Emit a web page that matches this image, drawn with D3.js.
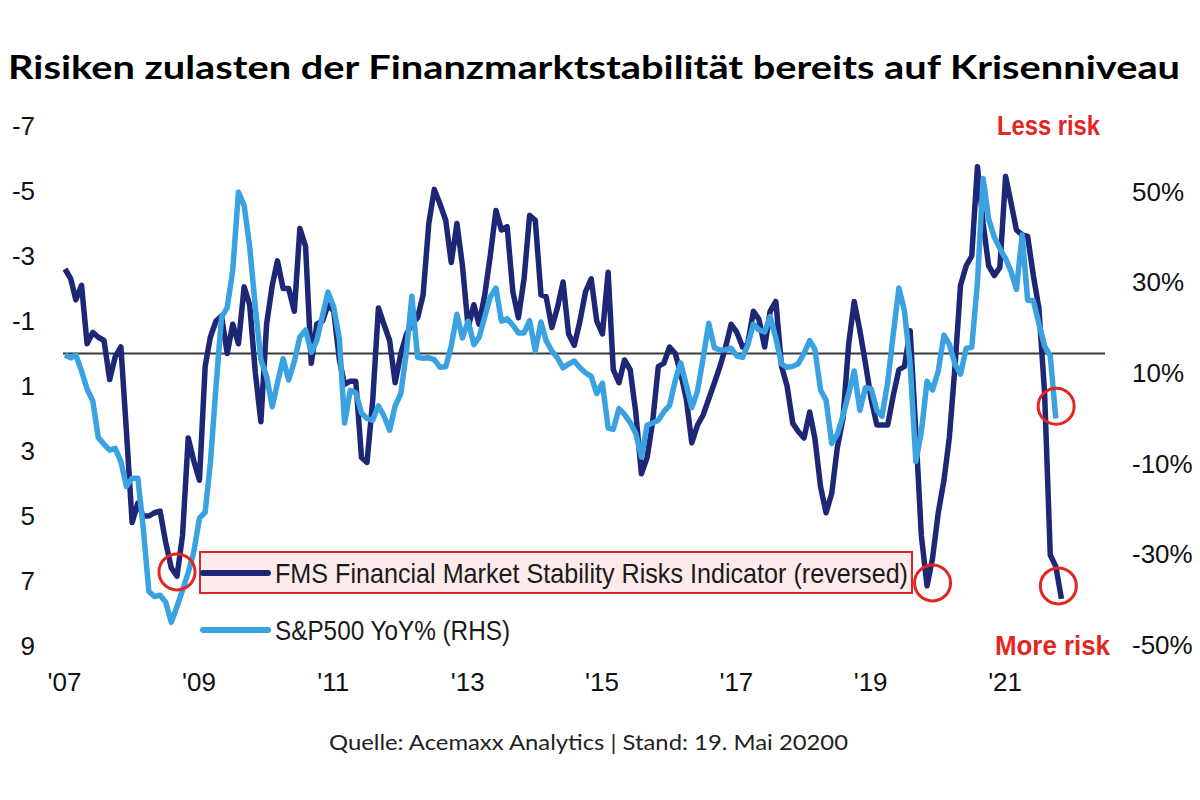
<!DOCTYPE html>
<html>
<head>
<meta charset="utf-8">
<script src="https://cdn.jsdelivr.net/npm/d3@7"></script>
<style>
  body { margin: 0; background: #fff; }
  .tick text { font-family: "Liberation Sans", Arial, sans-serif; font-size: 26px; fill: #111; }
</style>
</head>
<body>
<div id="chart"></div>
<script>
// FMS Financial Market Stability Risks Indicator (reversed), monthly from Jan 2007
let fmsReversed = [
  -2.6, -2.3, -1.65, -2.1, -0.3, -0.65, -0.5, -0.4, 0.8, 0.1,
  -0.2, 2.4, 5.2, 4.6, 5.0, 5.0, 4.9, 4.85, 5.8, 6.6,
  6.85, 5.6, 2.6, 3.3, 3.9, 0.4, -0.5, -1.0, -1.15, 0,
  -0.9, -0.3, -2.05, -1.5, 0.6, 2.1, -0.9, -2.1, -2.85, -2.0,
  -2.0, -1.3, -3.85, -3.3, 0.3, -0.9, -1.0, -1.5, -1.3, 0.2,
  0.95, 0.85, 0.85, 3.2, 3.35, 1.45, -1.4, -0.9, -0.4, 0.9,
  0, -0.6, -0.9, -1.1, -1.8, -4.0, -5.05, -4.6, -4.1, -2.8,
  -4.0, -2.7, -0.8, -1.5, -0.9, -1.8, -3.0, -4.4, -3.8, -3.9,
  -1.9, -1.1, -2.3, -4.25, -4.1, -1.8, -1.75, -0.8, -1.4, -2.2,
  -0.6, -0.25, -1.0, -1.9, -2.3, -1.0, -0.6, -2.5, 0.5, 0.9,
  0.2, 0.5, 1.8, 3.7, 3.2, 2.1, 0.4, 0.3, -0.2, 0,
  0.6, 1.4, 2.75, 2.2, 1.9, 1.4, 0.9, 0.4, -0.2, -0.9,
  -0.65, -0.2, -0.3, -1.3, -1.05, -0.2, -1.3, -1.6, 0.4, 1.0,
  2.15, 2.4, 2.6, 1.8, 2.6, 4.1, 4.9, 4.3, 2.9, 2.0,
  -0.3, -1.6, -0.7, 0.3, 1.4, 2.2, 2.2, 2.2, 1.3, 0.5,
  0.4, -0.7, 2.4, 5.6, 7.15, 6.3, 4.9, 3.9, 2.6, 0.4,
  -2.1, -2.7, -3.0, -5.75, -4.0, -2.7, -2.4, -2.65, -5.45, -4.6,
  -3.8, -3.65, -3.6, -2.4, -1.4, 1.2, 6.2, 6.55, 7.55
]

// S&P500 YoY in %, monthly from Jan 2007 (right axis)
let spxYoY = [
  14.0, 13.4, 14.0, 10.5, 6.5, 3.9, -4.2, -5.7, -7.0, -6.6,
  -9.5, -15.0, -13.2, -13.2, -24, -38.2, -39.3, -39, -40.5, -45,
  -41.5, -37.9, -34, -29.5, -22, -20.7, -10, 7, 22.3, 24.5,
  32.7, 50, 47, 38, 24.5, 13, 9.3, 2.6, 7.8, 13.2,
  8.5, 12.6, 18, 19.5, 14.6, 17.2, 22.7, 27.9, 24.6, 17.5,
  -1.0, 6.2, 5.7, 1.2, 0, -0.4, 2.8, 0.6, -2.6, 2.8,
  5.5, 15, 27, 13.5, 13.3, 13.4, 13, 11.3, 11.4, 16,
  23, 17.8, 21.5, 16.3, 17.9, 22.4, 26.8, 28.8, 21.5, 22,
  20.6, 18.9, 18.9, 21.6, 14.9, 21.3, 17.2, 14.9, 13.4, 11.2,
  12.0, 12.7, 11.2, 10.1, 9.3, 5.5, 7.8, -2.1, -2.4, 2.2,
  0.9, -0.9, -3.3, -8.5, -1.5, -1.0, -0.4, 1.5, 2.9, 8.4,
  12.3, 7.4, 2.4, 6.1, 13.2, 21, 15.6, 15.1, 15.2, 15.5,
  13.8, 13.5, 16.2, 20.8, 19.6, 19.1, 22.5, 17.7, 12, 11.3,
  11.5, 12.1, 14.4, 17.2, 15.3, 6.3, 4.0, -5.5, -3.5, 0.6,
  5.5, 10.5, 1.8, 6.8, 6.6, 1.8, 0.5, 8, 18.5, 28.8,
  23.8, 12, -9.5, -3, 8.2, 6.3, 10.5, 18.4, 16.4, 12,
  9.8, 15.5, 15.7, 30, 53, 44, 40, 37.5, 35.3, 32.3,
  28.5, 40.5, 26.1, 26, 21, 16, 13.8, 0
]

let months = d3.timeMonth.range(new Date(2007, 0, 1), new Date(2021, 11, 1))

let leftTicks = [-7, -5, -3, -1, 1, 3, 5, 7, 9]
let rightTicks = [-50, -30, -10, 10, 30, 50]
let yearTicks = [2007, 2009, 2011, 2013, 2015, 2017, 2019, 2021]

// red circles marking the risk lows (date, axis, value)
let riskCircles = [
  { date: new Date(2008, 8, 1), axis: "left", value: 6.72 },
  { date: new Date(2019, 11, 1), axis: "left", value: 7.06 },
  { date: new Date(2021, 9, 3), axis: "right", value: 2.7 },
  { date: new Date(2021, 9, 15), axis: "left", value: 7.15 }
]

let legendItems = [
  { label: "FMS Financial Market Stability Risks Indicator (reversed)", color: "#1d2775", width: 633 },
  { label: "S&P500 YoY% (RHS)", color: "#3aa2e0", width: 235 }
]

let width = 1200
let height = 800
let darkBlue = "#1d2775"
let lightBlue = "#3aa2e0"
let red = "#e3261f"

let svg = d3
  .select("#chart")
  .append("svg")
  .attr("width", width)
  .attr("height", height)

let xScale = d3.scaleTime()
  .domain([new Date(2007, 0, 1), new Date(2022, 6, 1)])
  .range([65, 1106])

let yLeft = d3.scaleLinear()
  .domain([-7, 9])
  .range([126, 646])

let yRight = d3.scaleLinear()
  .domain([-50, 50])
  .range([645, 192])

// title
svg.append("text")
  .attr("x", 8)
  .attr("y", 79)
  .attr("textLength", 1172)
  .attr("lengthAdjust", "spacingAndGlyphs")
  .style("font-family", "Lato, 'Open Sans', sans-serif")
  .style("font-weight", "bold")
  .style("font-size", "33px")
  .style("fill", "#000")
  .text("Risiken zulasten der Finanzmarktstabilität bereits auf Krisenniveau")

// axes (plain hyphen for negatives, like the original)
let leftAxis = d3.axisLeft(yLeft).tickValues(leftTicks).tickSize(0).tickPadding(0)
  .tickFormat(d => String(d))
let rightAxis = d3.axisRight(yRight).tickValues(rightTicks).tickSize(0).tickPadding(0)
  .tickFormat(d => d + "%")
let bottomAxis = d3.axisBottom(xScale)
  .tickValues(yearTicks.map(y => new Date(y, 0, 1)))
  .tickFormat(d => "'" + d3.timeFormat("%y")(d))
  .tickSize(0).tickPadding(7)

svg.append("g").attr("transform", "translate(35,0)").call(leftAxis)
  .call(g => g.select(".domain").remove())
svg.append("g").attr("transform", "translate(1132,0)").call(rightAxis)
  .call(g => g.select(".domain").remove())
svg.append("g").attr("transform", "translate(-1,666)").call(bottomAxis)
  .call(g => g.select(".domain").remove())

// zero line
svg.append("line")
  .attr("x1", xScale.range()[0] - 2)
  .attr("x2", xScale.range()[1] - 1)
  .attr("y1", yLeft(0))
  .attr("y2", yLeft(0))
  .style("stroke", "#3a3a3a")
  .style("stroke-width", 2.2)

let fmsLine = d3.line()
  .x((d, i) => xScale(months[i]))
  .y(d => yLeft(d))

let spxLine = d3.line()
  .x((d, i) => xScale(months[i]))
  .y(d => yRight(d))

svg.append("path")
  .datum(fmsReversed)
  .attr("d", fmsLine)
  .style("fill", "none")
  .style("stroke", darkBlue)
  .style("stroke-width", 5.5)
  .style("stroke-linejoin", "round")

svg.append("path")
  .datum(spxYoY)
  .attr("d", spxLine)
  .style("fill", "none")
  .style("stroke", lightBlue)
  .style("stroke-width", 5.5)
  .style("stroke-linejoin", "round")

// risk circles
svg.selectAll(".riskCircle")
  .data(riskCircles)
  .enter()
  .append("circle")
  .attr("class", "riskCircle")
  .attr("cx", d => xScale(d.date))
  .attr("cy", d => d.axis === "left" ? yLeft(d.value) : yRight(d.value))
  .attr("r", 18)
  .style("fill", "none")
  .style("stroke", red)
  .style("stroke-width", 3)

// legend
svg.append("rect")
  .attr("x", 200)
  .attr("y", 552)
  .attr("width", 712)
  .attr("height", 41)
  .style("fill", "#fdeaea")
  .style("stroke", "#d8262c")
  .style("stroke-width", 2)

let legend = svg.selectAll(".legendItem")
  .data(legendItems)
  .enter()
  .append("g")
  .attr("class", "legendItem")
  .attr("transform", (d, i) => `translate(203, ${573 + i * 57})`)

legend.append("line")
  .attr("x1", 0)
  .attr("x2", 65)
  .style("stroke", d => d.color)
  .style("stroke-width", 6)
  .style("stroke-linecap", "round")

legend.append("text")
  .attr("x", 72)
  .attr("y", 10)
  .attr("textLength", d => d.width)
  .attr("lengthAdjust", "spacingAndGlyphs")
  .style("font-family", "'Liberation Sans', Arial, sans-serif")
  .style("font-size", "28px")
  .style("fill", "#1a1a1a")
  .text(d => d.label)

// risk labels
svg.append("text")
  .attr("x", 997)
  .attr("y", 135)
  .attr("textLength", 103)
  .attr("lengthAdjust", "spacingAndGlyphs")
  .style("font-family", "'Liberation Sans', Arial, sans-serif")
  .style("font-weight", "bold")
  .style("font-size", "27px")
  .style("fill", red)
  .text("Less risk")

svg.append("text")
  .attr("x", 995)
  .attr("y", 655)
  .attr("textLength", 115)
  .attr("lengthAdjust", "spacingAndGlyphs")
  .style("font-family", "'Liberation Sans', Arial, sans-serif")
  .style("font-weight", "bold")
  .style("font-size", "27px")
  .style("fill", red)
  .text("More risk")

// source
svg.append("text")
  .attr("x", 329)
  .attr("y", 750)
  .attr("textLength", 519)
  .attr("lengthAdjust", "spacingAndGlyphs")
  .style("font-family", "Lato, 'Open Sans', sans-serif")
  .style("font-size", "22px")
  .style("fill", "#222")
  .text("Quelle: Acemaxx Analytics | Stand: 19. Mai 20200")
</script>
</body>
</html>
